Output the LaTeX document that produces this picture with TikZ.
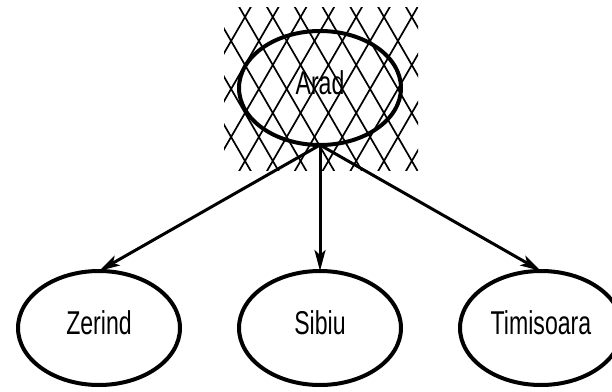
\documentclass[tikz,border=0pt]{standalone}
\usepackage{fontspec}
\usepackage{tikz}
\usetikzlibrary{shapes.geometric,arrows.meta,positioning}
\newfontfamily\cityfont[FakeStretch=0.7]{Liberation Sans}
\tikzset{
  CT/.style={ellipse,draw,line width=4pt,
             minimum width=162pt,minimum height=114pt,
             inner sep=0pt,outer sep=0pt,text depth=10pt,
             font=\cityfont\fontsize{33}{38}\selectfont},
  arr/.style={-{Stealth[length=21pt,width=11pt,inset=5pt]},line width=3pt},
  HL/.style={line width=1.7pt}
}

\begin{document}
\begin{tikzpicture}[x=1pt,y=1pt,node distance=126pt and 59pt]
  \useasboundingbox (0,0) rectangle (612,391);
  % cross hatching behind the expanded node
  \begin{scope}
    \clip (224,220) rectangle (418,383);
    \foreach \k in {-5,...,7}
      \draw[HL] (235.15+27.8*\k,391) -- (345.8+27.8*\k,200);
    \foreach \k in {-3,...,11}
      \draw[HL] (254.85+27.8*\k,391) -- (144.2+27.8*\k,200);
  \end{scope}

  \node[CT] (arad) at (320,303) {Arad};
  \node[CT,below=of arad] (sibiu) {Sibiu};
  \node[CT,left=of sibiu] (zerind) {Zerind};
  \node[CT,right=of sibiu] (timisoara) {Timisoara};

  \draw[arr](arad.south)--(zerind.north);
  \draw[arr](arad.south)--(sibiu.north);
  \draw[arr](arad.south)--(timisoara.north);
\end{tikzpicture}
\end{document}
